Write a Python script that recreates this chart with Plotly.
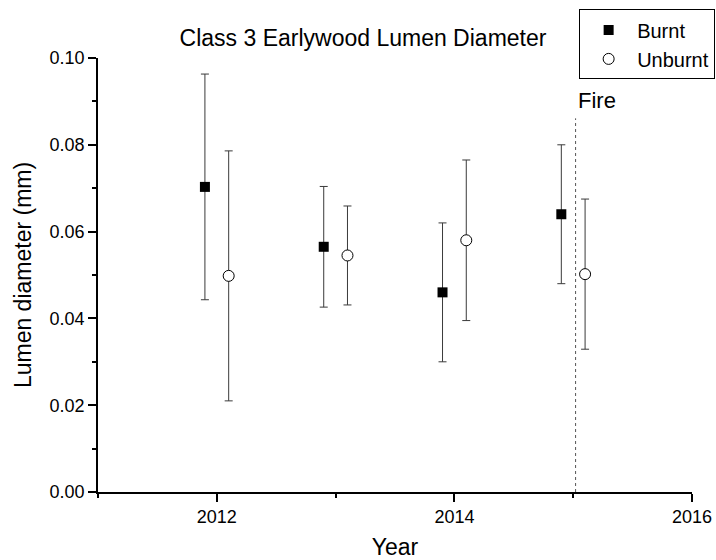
import plotly.graph_objects as go

# Sampling years and group means / standard deviations (mm)
years = [2012, 2013, 2014, 2015]
burnt_mean = [0.0703, 0.0565, 0.0460, 0.0640]
burnt_sd = [0.0260, 0.0139, 0.0160, 0.0160]
unburnt_mean = [0.0498, 0.0545, 0.0580, 0.0502]
unburnt_sd = [0.0288, 0.0114, 0.0185, 0.0173]

fire_year = 2015.02
fire_top = 0.0861
fire_label = "Fire"

DODGE = 0.1
FONT = "Arial, 'Liberation Sans', sans-serif"
ERR_COLOR = "#3a3a3a"

fig = go.Figure()

fig.add_trace(go.Scatter(
    x=[y - DODGE for y in years], y=burnt_mean, mode="markers", name="Burnt",
    marker=dict(symbol="square", size=10, color="black", line=dict(width=0)),
    error_y=dict(type="data", array=burnt_sd, visible=True,
                 color=ERR_COLOR, thickness=1, width=4),
))
fig.add_trace(go.Scatter(
    x=[y + DODGE for y in years], y=unburnt_mean, mode="markers", name="Unburnt",
    marker=dict(symbol="circle", size=11, color="white", line=dict(width=1, color="black")),
    error_y=dict(type="data", array=unburnt_sd, visible=True,
                 color=ERR_COLOR, thickness=1, width=4),
))

# Fire event marker
fig.add_shape(type="line", xref="x", yref="y", x0=fire_year, x1=fire_year,
              y0=0, y1=fire_top, line=dict(color="#555555", width=1, dash="dot"))
fig.add_annotation(x=fire_year, y=0.0902, xref="x", yref="y", text=fire_label,
                   showarrow=False, xanchor="left", yanchor="middle", xshift=0,
                   font=dict(family=FONT, size=22, color="black"))

axis_common = dict(
    showgrid=False, zeroline=False, showline=True, linecolor="black", linewidth=1.5,
    ticks="outside", ticklen=8, tickwidth=1.5, tickcolor="black",
    tickfont=dict(family=FONT, size=18, color="black"),
)

fig.update_xaxes(
    range=[2011, 2016], dtick=2, tick0=2012,
    minor=dict(ticks="outside", ticklen=4, tickwidth=1.5, tickcolor="black", dtick=1, tick0=2011, showgrid=False),
    title=dict(text="Year", font=dict(family=FONT, size=23, color="black"), standoff=20),
    **axis_common,
)
fig.update_yaxes(
    range=[0, 0.1], dtick=0.02, tickformat=".2f",
    minor=dict(ticks="outside", ticklen=4, tickwidth=1.5, tickcolor="black", dtick=0.01, showgrid=False),
    title=dict(text="Lumen diameter (mm)", font=dict(family=FONT, size=23, color="black"), standoff=12),
    **axis_common,
)

fig.update_layout(
    width=716, height=560,
    margin=dict(l=98, r=24, t=58, b=68, autoexpand=False),
    paper_bgcolor="white", plot_bgcolor="white",
    title=dict(text="Class 3 Earlywood Lumen Diameter", x=363 / 716, xanchor="center",
               y=1 - 38 / 560, yanchor="middle",
               font=dict(family=FONT, size=23, color="black")),
    legend=dict(x=0.81, y=1.112, xanchor="left", yanchor="top",
                bordercolor="black", borderwidth=1, bgcolor="white",
                font=dict(family=FONT, size=20, color="black"),
                tracegroupgap=0, itemwidth=47),
    showlegend=True,
)

fig.write_html("out.html")
